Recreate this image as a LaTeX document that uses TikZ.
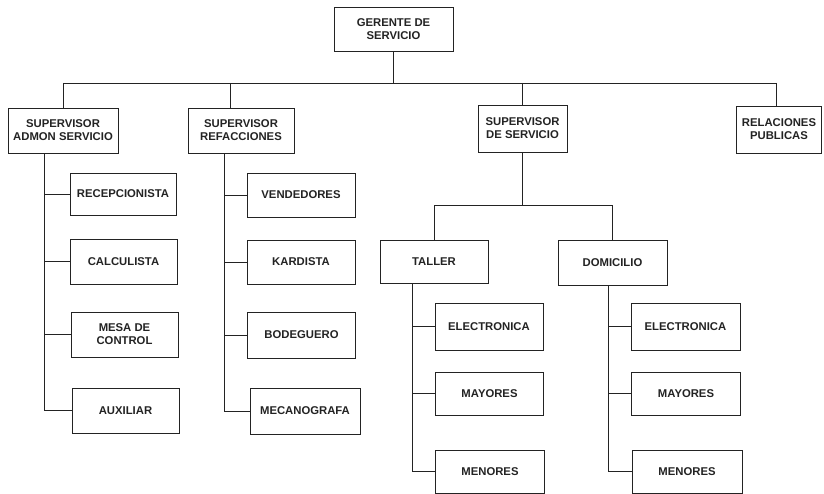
\documentclass[tikz,border=0pt]{standalone}
\usepackage{fontspec}
\setmainfont{Liberation Sans}
\usetikzlibrary{positioning, calc}
\definecolor{orgink}{RGB}{35,35,35}
\tikzset{
  puesto/.style={rectangle, draw=orgink, line width=0.9pt, align=center,
    font=\bfseries\fontsize{11.3}{12.8}\selectfont, text=orgink, inner sep=1pt,
    minimum width=108pt, minimum height=44pt},
  liga/.style={draw=orgink, line width=0.9pt}
}

\begin{document}
\begin{tikzpicture}[x=1pt, y=-1pt]
  \useasboundingbox (0,0) rectangle (824,494);

  % Gerencia
  \node[puesto, minimum width=119pt] (ger) at (393.5,29) {GERENTE DE\\SERVICIO};

  % Supervisores
  \node[puesto, minimum width=110pt, minimum height=45pt] (admon) at (63,130.5) {SUPERVISOR\\ADMON SERVICIO};
  \node[puesto, minimum width=106pt, minimum height=45pt] (refac) at (241,130.5) {SUPERVISOR\\REFACCIONES};
  \node[puesto, minimum width=89pt, minimum height=47pt] (servsup) at (522.5,128.5) {SUPERVISOR\\DE SERVICIO};
  \node[puesto, minimum width=85pt, minimum height=47pt] (relpub) at (779,129.5) {RELACIONES\\PUBLICAS};

  % Bus principal
  \coordinate (b1) at (63,83);
  \coordinate (b2) at (230,83);
  \coordinate (b3) at (522.5,83);
  \coordinate (b4) at (776,83);
  \draw[liga] (ger.south) -- (ger.south |- b1);
  \draw[liga] (b1) -- (b4);
  \draw[liga] (b1) -- (b1 |- admon.north);
  \draw[liga] (b2) -- (b2 |- refac.north);
  \draw[liga] (b3) -- (b3 |- servsup.north);
  \draw[liga] (b4) -- (b4 |- relpub.north);

  % Admon servicio
  \node[puesto, minimum width=106pt, minimum height=42pt] (recep) at (123,194) {RECEPCIONISTA};
  \node[puesto, minimum width=107pt, minimum height=45pt] (calcu) at (123.5,261.5) {CALCULISTA};
  \node[puesto, minimum width=107pt, minimum height=45pt] (mesa) at (124.5,334.5) {MESA DE\\CONTROL};
  \node[puesto, minimum width=107pt, minimum height=45pt] (aux) at (125.5,410.5) {AUXILIAR};
  \coordinate (sa) at ($(admon.south west)+(37,0)$);
  \foreach \n in {recep,calcu,mesa,aux}
    \draw[liga] (sa) |- (\n.west);

  % Refacciones
  \node[puesto] (vend) at (301,195) {VENDEDORES};
  \node[puesto] (kard) at (301,262) {KARDISTA};
  \node[puesto, minimum height=46pt] (bode) at (301.5,335) {BODEGUERO};
  \node[puesto, minimum width=110pt, minimum height=46pt] (meca) at (305,411) {MECANOGRAFA};
  \coordinate (sr) at ($(refac.south west)+(37,0)$);
  \foreach \n in {vend,kard,bode,meca}
    \draw[liga] (sr) |- (\n.west);

  % Servicio
  \node[puesto, minimum height=43pt] (taller) at (434,261.5) {TALLER};
  \node[puesto, minimum width=109pt, minimum height=45pt] (domic) at (612.5,262.5) {DOMICILIO};
  \coordinate (bs) at ($(servsup.south)+(0,53)$);
  \draw[liga] (servsup.south) -- (bs);
  \draw[liga] (taller.north) |- (bs) -| (domic.north);

  % Taller
  \node[puesto, minimum height=47pt] (tel) at (489,326.5) {ELECTRONICA};
  \node[puesto, minimum height=43pt] (tmay) at (489.5,393.5) {MAYORES};
  \node[puesto, minimum width=109pt, minimum height=43pt] (tmen) at (490,471.5) {MENORES};
  \coordinate (st) at ($(taller.south west)+(33,0)$);
  \foreach \n in {tel,tmay,tmen}
    \draw[liga] (st) |- (\n.west);

  % Domicilio
  \node[puesto, minimum width=109pt, minimum height=47pt] (del) at (685.5,326.5) {ELECTRONICA};
  \node[puesto, minimum width=109pt, minimum height=43pt] (dmay) at (686,393.5) {MAYORES};
  \node[puesto, minimum width=110pt, minimum height=43pt] (dmen) at (687,471.5) {MENORES};
  \coordinate (sd) at ($(domic.south west)+(51,0)$);
  \foreach \n in {del,dmay,dmen}
    \draw[liga] (sd) |- (\n.west);
\end{tikzpicture}
\end{document}
